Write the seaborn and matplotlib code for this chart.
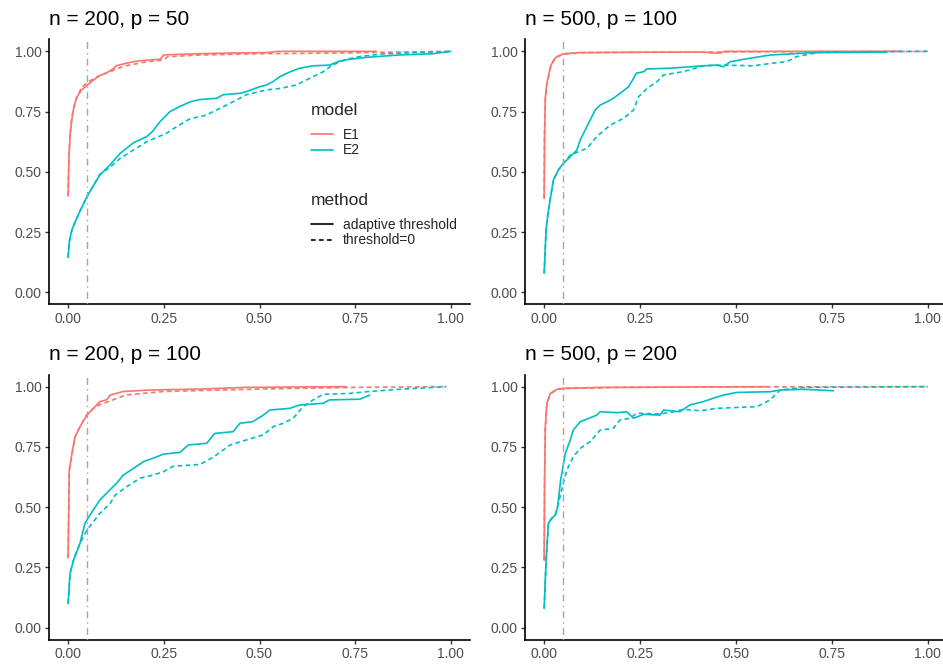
import matplotlib
matplotlib.use("Agg")
import matplotlib.pyplot as plt
import numpy as np
import pandas as pd
import seaborn as sns
from matplotlib.lines import Line2D

# ---- ROC curves: false positive rate / true positive rate ----
panel_titles = ["n = 200, p = 50", "n = 500, p = 100", "n = 200, p = 100", "n = 500, p = 200"]
models = ["E1", "E2"]
methods = ["adaptive threshold", "threshold=0"]
model_colors = ["#F8766D", "#00BFC4"]

# n = 200, p = 50
p1_e1_adapt_fpr = [0, 0.002, 0.005, 0.01, 0.015, 0.023, 0.035, 0.05, 0.065, 0.083, 0.1, 0.12, 0.125, 0.15, 0.17, 0.2, 0.24, 0.25, 0.3, 0.34, 0.42, 0.52, 0.55, 0.805]
p1_e1_adapt_tpr = [0.40, 0.55, 0.65, 0.72, 0.77, 0.81, 0.84, 0.86, 0.88, 0.90, 0.91, 0.93, 0.94, 0.95, 0.957, 0.963, 0.967, 0.985, 0.988, 0.99, 0.993, 0.995, 1.0, 1.0]
p1_e1_zero_fpr = [0, 0.002, 0.005, 0.01, 0.02, 0.035, 0.05, 0.07, 0.09, 0.11, 0.13, 0.15, 0.2, 0.25, 0.26, 0.35, 0.5, 0.7, 0.85, 1.0]
p1_e1_zero_tpr = [0.40, 0.56, 0.66, 0.73, 0.80, 0.85, 0.87, 0.89, 0.905, 0.915, 0.93, 0.94, 0.955, 0.965, 0.978, 0.985, 0.99, 0.993, 0.997, 1.0]
p1_e2_adapt_fpr = [0, 0.003, 0.01, 0.023, 0.05, 0.083, 0.11, 0.136, 0.17, 0.205, 0.22, 0.24, 0.266, 0.29, 0.318, 0.344, 0.388, 0.405, 0.45, 0.466, 0.50, 0.518, 0.535, 0.553, 0.58, 0.605, 0.64, 0.683, 0.71, 0.735, 0.78, 0.865, 0.953, 1.0]
p1_e2_adapt_tpr = [0.145, 0.21, 0.26, 0.31, 0.40, 0.487, 0.53, 0.577, 0.62, 0.646, 0.667, 0.708, 0.75, 0.77, 0.79, 0.80, 0.805, 0.82, 0.826, 0.833, 0.853, 0.86, 0.874, 0.895, 0.915, 0.93, 0.94, 0.943, 0.96, 0.967, 0.975, 0.985, 0.99, 1.0]
p1_e2_zero_fpr = [0, 0.003, 0.01, 0.023, 0.05, 0.083, 0.11, 0.136, 0.17, 0.205, 0.257, 0.283, 0.318, 0.36, 0.414, 0.466, 0.518, 0.553, 0.596, 0.64, 0.666, 0.69, 0.727, 0.76, 0.82, 0.91, 1.0]
p1_e2_zero_tpr = [0.145, 0.21, 0.26, 0.31, 0.40, 0.49, 0.52, 0.556, 0.59, 0.625, 0.66, 0.687, 0.72, 0.735, 0.777, 0.82, 0.84, 0.846, 0.86, 0.895, 0.915, 0.943, 0.967, 0.978, 0.989, 0.995, 1.0]

# n = 500, p = 100
p2_e1_adapt_fpr = [0, 0.001, 0.003, 0.007, 0.016, 0.025, 0.033, 0.05, 0.094, 0.2, 0.415, 0.44, 0.46, 0.47, 0.928]
p2_e1_adapt_tpr = [0.39, 0.65, 0.81, 0.867, 0.936, 0.965, 0.978, 0.99, 0.995, 0.996, 0.997, 0.993, 0.993, 1.0, 1.0]
p2_e1_zero_fpr = [0, 0.001, 0.003, 0.007, 0.016, 0.025, 0.033, 0.05, 0.094, 0.3, 0.6, 1.0]
p2_e1_zero_tpr = [0.39, 0.65, 0.80, 0.86, 0.93, 0.962, 0.976, 0.988, 0.994, 0.997, 0.998, 1.0]
p2_e2_adapt_fpr = [0, 0.005, 0.011, 0.024, 0.037, 0.05, 0.068, 0.085, 0.094, 0.111, 0.133, 0.146, 0.163, 0.18, 0.198, 0.22, 0.233, 0.24, 0.26, 0.267, 0.328, 0.38, 0.415, 0.45, 0.467, 0.485, 0.52, 0.59, 0.64, 0.693, 0.893]
p2_e2_adapt_tpr = [0.08, 0.26, 0.34, 0.466, 0.508, 0.535, 0.563, 0.59, 0.632, 0.687, 0.757, 0.777, 0.79, 0.805, 0.826, 0.853, 0.888, 0.909, 0.916, 0.927, 0.93, 0.936, 0.94, 0.943, 0.936, 0.957, 0.967, 0.985, 0.989, 0.994, 0.997]
p2_e2_zero_fpr = [0, 0.005, 0.011, 0.024, 0.037, 0.05, 0.068, 0.111, 0.137, 0.172, 0.207, 0.233, 0.246, 0.268, 0.294, 0.311, 0.363, 0.415, 0.467, 0.545, 0.59, 0.632, 0.658, 0.72, 1.0]
p2_e2_zero_tpr = [0.08, 0.26, 0.34, 0.466, 0.508, 0.535, 0.57, 0.597, 0.646, 0.694, 0.722, 0.757, 0.812, 0.846, 0.874, 0.902, 0.916, 0.94, 0.943, 0.94, 0.95, 0.957, 0.978, 0.997, 1.0]

# n = 200, p = 100
p3_e1_adapt_fpr = [0, 0.003, 0.01, 0.018, 0.031, 0.049, 0.066, 0.083, 0.1, 0.11, 0.144, 0.214, 0.344, 0.466, 0.727]
p3_e1_adapt_tpr = [0.29, 0.654, 0.723, 0.792, 0.834, 0.882, 0.91, 0.938, 0.945, 0.965, 0.98, 0.986, 0.99, 0.997, 1.0]
p3_e1_zero_fpr = [0, 0.003, 0.01, 0.018, 0.031, 0.049, 0.066, 0.083, 0.1, 0.15, 0.25, 0.5, 0.75, 0.99]
p3_e1_zero_tpr = [0.29, 0.65, 0.72, 0.79, 0.834, 0.885, 0.91, 0.925, 0.935, 0.965, 0.98, 0.99, 0.997, 1.0]
p3_e2_adapt_fpr = [0, 0.005, 0.014, 0.031, 0.044, 0.057, 0.083, 0.1, 0.127, 0.144, 0.17, 0.197, 0.222, 0.249, 0.292, 0.314, 0.362, 0.383, 0.431, 0.449, 0.483, 0.51, 0.527, 0.579, 0.605, 0.666, 0.683, 0.762, 0.788]
p3_e2_adapt_tpr = [0.10, 0.225, 0.28, 0.35, 0.433, 0.467, 0.53, 0.557, 0.60, 0.633, 0.66, 0.689, 0.703, 0.72, 0.727, 0.758, 0.765, 0.806, 0.813, 0.848, 0.855, 0.882, 0.903, 0.91, 0.924, 0.931, 0.945, 0.948, 0.965]
p3_e2_zero_fpr = [0, 0.005, 0.014, 0.031, 0.049, 0.083, 0.11, 0.123, 0.153, 0.188, 0.222, 0.249, 0.275, 0.344, 0.38, 0.423, 0.466, 0.51, 0.536, 0.562, 0.588, 0.614, 0.64, 0.666, 0.736, 0.78, 0.866, 0.988]
p3_e2_zero_tpr = [0.10, 0.225, 0.28, 0.35, 0.405, 0.474, 0.516, 0.55, 0.585, 0.62, 0.633, 0.647, 0.67, 0.677, 0.708, 0.758, 0.779, 0.80, 0.834, 0.848, 0.869, 0.917, 0.945, 0.968, 0.972, 0.979, 0.989, 1.0]

# n = 500, p = 200
p4_e1_adapt_fpr = [0, 0.001, 0.003, 0.007, 0.016, 0.033, 0.05, 0.155, 0.58]
p4_e1_adapt_tpr = [0.28, 0.6, 0.834, 0.93, 0.972, 0.989, 0.993, 0.997, 1.0]
p4_e1_zero_fpr = [0, 0.001, 0.003, 0.007, 0.016, 0.033, 0.05, 0.2, 0.6, 1.0]
p4_e1_zero_tpr = [0.28, 0.6, 0.83, 0.925, 0.97, 0.988, 0.992, 0.997, 0.999, 1.0]
p4_e2_adapt_fpr = [0, 0.005, 0.011, 0.02, 0.029, 0.035, 0.043, 0.055, 0.068, 0.076, 0.094, 0.111, 0.137, 0.146, 0.19, 0.215, 0.233, 0.259, 0.302, 0.311, 0.354, 0.38, 0.415, 0.441, 0.467, 0.502, 0.589, 0.615, 0.676, 0.754]
p4_e2_adapt_tpr = [0.08, 0.28, 0.433, 0.454, 0.467, 0.50, 0.613, 0.723, 0.779, 0.82, 0.855, 0.865, 0.882, 0.896, 0.892, 0.896, 0.869, 0.885, 0.882, 0.903, 0.896, 0.924, 0.938, 0.952, 0.965, 0.976, 0.979, 0.986, 0.989, 0.983]
p4_e2_zero_fpr = [0, 0.005, 0.011, 0.02, 0.029, 0.037, 0.05, 0.059, 0.076, 0.094, 0.12, 0.146, 0.18, 0.198, 0.224, 0.241, 0.294, 0.328, 0.363, 0.407, 0.45, 0.554, 0.572, 0.589, 0.615, 0.676, 1.0]
p4_e2_zero_tpr = [0.08, 0.28, 0.433, 0.454, 0.467, 0.516, 0.60, 0.654, 0.71, 0.744, 0.772, 0.82, 0.827, 0.862, 0.869, 0.89, 0.887, 0.892, 0.906, 0.90, 0.91, 0.917, 0.931, 0.945, 0.986, 0.997, 1.0]

fdr_cutoff = 0.05
tick_values = [0.0, 0.25, 0.5, 0.75, 1.0]
tick_labels = ["0.00", "0.25", "0.50", "0.75", "1.00"]

curves = {
    0: [(p1_e1_adapt_fpr, p1_e1_adapt_tpr), (p1_e1_zero_fpr, p1_e1_zero_tpr),
        (p1_e2_adapt_fpr, p1_e2_adapt_tpr), (p1_e2_zero_fpr, p1_e2_zero_tpr)],
    1: [(p2_e1_adapt_fpr, p2_e1_adapt_tpr), (p2_e1_zero_fpr, p2_e1_zero_tpr),
        (p2_e2_adapt_fpr, p2_e2_adapt_tpr), (p2_e2_zero_fpr, p2_e2_zero_tpr)],
    2: [(p3_e1_adapt_fpr, p3_e1_adapt_tpr), (p3_e1_zero_fpr, p3_e1_zero_tpr),
        (p3_e2_adapt_fpr, p3_e2_adapt_tpr), (p3_e2_zero_fpr, p3_e2_zero_tpr)],
    3: [(p4_e1_adapt_fpr, p4_e1_adapt_tpr), (p4_e1_zero_fpr, p4_e1_zero_tpr),
        (p4_e2_adapt_fpr, p4_e2_adapt_tpr), (p4_e2_zero_fpr, p4_e2_zero_tpr)],
}
combos = [(m, me) for m in models for me in methods]

frames = []
for k, lst in curves.items():
    for (m, me), (fx, fy) in zip(combos, lst):
        frames.append(pd.DataFrame({"panel": k, "model": m, "method": me,
                                    "order": np.arange(len(fx)), "fpr": fx, "tpr": fy}))
df = pd.concat(frames, ignore_index=True)

# ---- styling ----
sns.set_theme(style="ticks")
plt.rcParams["font.family"] = ["Liberation Sans", "DejaVu Sans"]
plt.rcParams["axes.facecolor"] = "white"

W, H = 943, 664
fig = plt.figure(figsize=(W / 100, H / 100), dpi=100)
fig.patch.set_facecolor("white")


def box(left, top, right, bottom):
    return [left / W, 1 - bottom / H, (right - left) / W, (bottom - top) / H]


positions = [box(49, 39.3, 470, 304.4), box(525, 39.3, 947, 304.4),
             box(49, 374.6, 470, 639.7), box(525, 374.6, 947, 639.7)]

line_w = 1.2
dash_map = {"adaptive threshold": "", "threshold=0": (2.8, 2.0)}

axes = []
for k, pos in enumerate(positions):
    ax = fig.add_axes(pos)
    sub = df[df["panel"] == k].sort_values(["model", "method", "order"])
    sns.lineplot(data=sub, x="fpr", y="tpr", hue="model", style="method",
                 hue_order=models, style_order=methods, palette=model_colors,
                 dashes=dash_map, sort=False, estimator=None,
                 linewidth=line_w, legend=False, ax=ax)
    ax.axvline(fdr_cutoff, color="#A6A6A6", lw=1.0, ls=(0, (1, 3, 5, 3)), zorder=3)
    ax.set_xlim(-0.05, 1.05)
    ax.set_ylim(-0.05, 1.05)
    ax.set_xticks(tick_values, tick_labels)
    ax.set_yticks(tick_values, tick_labels)
    ax.set_xlabel("")
    ax.set_ylabel("")
    for s in ["top", "right"]:
        ax.spines[s].set_visible(False)
    for s in ["left", "bottom"]:
        ax.spines[s].set_color("black")
        ax.spines[s].set_linewidth(1.2)
    ax.tick_params(length=2.75, width=1.0, color="#333333", labelcolor="#4D4D4D",
                   labelsize=10, pad=2.5)
    ax.set_title(panel_titles[k], loc="left", fontsize=15, pad=10.5, color="black")
    axes.append(ax)

# ---- legends on the first panel ----
ax0 = axes[0]


def add_legend(handles, labels, title, top_px):
    leg = ax0.legend(handles, labels, title=title, loc="upper left",
                     bbox_to_anchor=(311 / W, 1 - top_px / H),
                     bbox_transform=fig.transFigure, frameon=False, fontsize=10,
                     title_fontsize=12.5, handlelength=1.6, handletextpad=0.7,
                     labelspacing=0.12, borderpad=0, borderaxespad=0)
    leg._legend_box.align = "left"
    leg._legend_box.sep = 7
    return leg


model_handles = [Line2D([], [], color=c, lw=line_w) for c in model_colors]
leg1 = add_legend(model_handles, models, "model", 103)
ax0.add_artist(leg1)

method_handles = [Line2D([], [], color="black", lw=line_w),
                  Line2D([], [], color="black", lw=line_w, dashes=(2.8, 2.0))]
leg2 = add_legend(method_handles, methods, "method", 193)

fig.savefig("out.png", dpi=100, facecolor="white")
